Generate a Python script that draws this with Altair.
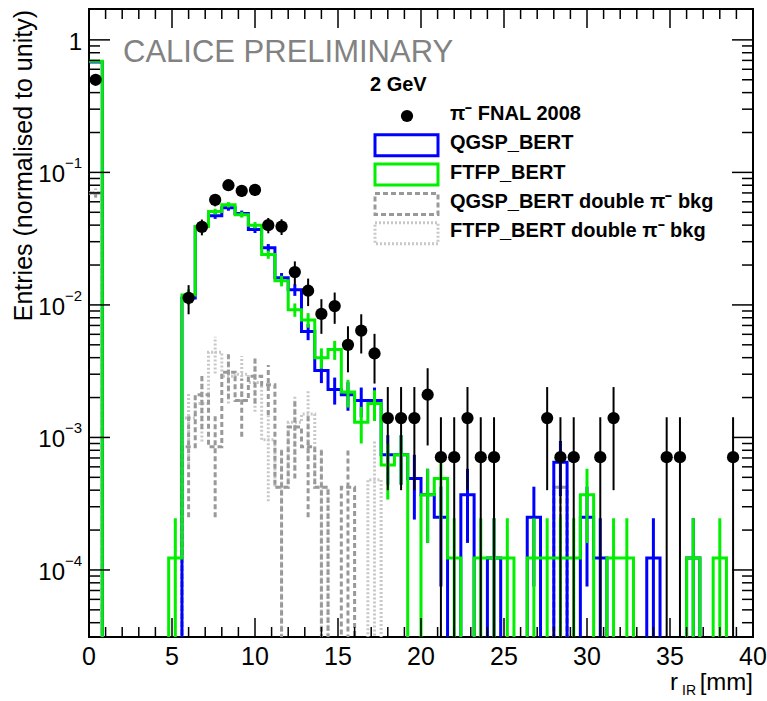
import altair as alt
import pandas as pd

# ---------------- data ----------------
BIN_W = 0.8          # mm, 50 bins from 0 to 40 mm

# measured data pi- FNAL 2008 (bin index, value, error)
data_bins = [0, 7, 8, 9, 10, 11, 12, 13, 14, 15, 16, 17, 18, 19, 20, 21,
             22, 23, 24, 25, 26, 27, 28, 29, 30, 34, 35, 36, 38, 39, 43, 44, 48]
data_vals = [0.50, 0.0113, 0.0388, 0.062, 0.080, 0.0725, 0.0738, 0.040, 0.039,
             0.0177, 0.0128, 0.00855, 0.0098, 0.0050, 0.0064, 0.0043,
             0.0014, 0.0014, 0.0014, 0.0021, 0.00071, 0.00071, 0.0014, 0.00071,
             0.00071, 0.0014, 0.00071, 0.00071, 0.00071, 0.0014, 0.00071,
             0.00071, 0.00071]
data_errs = [0.019, 0.0028, 0.0053, 0.0066, 0.0076, 0.0072, 0.0073, 0.0053,
             0.0053, 0.0036, 0.0030, 0.0025, 0.0026, 0.0019, 0.0021, 0.00175,
             0.0010, 0.0010, 0.0010, 0.00123, 0.00071, 0.00071, 0.0010, 0.00071,
             0.00071, 0.0010, 0.00071, 0.00071, 0.00071, 0.0010, 0.00071,
             0.00071, 0.00071]

# QGSP_BERT (blue)
qgsp = [0.68, 0, 0, 0, 0, 0, 0, 0.0113, 0.039, 0.047,
        0.054, 0.049, 0.037, 0.027, 0.016, 0.013, 0.0063, 0.0032, 0.0023, 0.0021,
        0.0019, 0.0019, 0.00074, 0.00074, 0.00049, 0.00037, 0.00025, 0, 0.00037, 0,
        0.000123, 0, 0, 0.00025, 0, 0.00065, 0, 0.00025, 0.000123, 0,
        0, 0, 0.000123, 0, 0, 0.000123, 0, 0, 0, 0]
qgsp_err = [0.0091, 0, 0, 0, 0, 0, 0, 0.0012, 0.0022, 0.0024,
            0.0026, 0.0025, 0.0021, 0.0018, 0.0014, 0.0013, 0.00088, 0.00063, 0.00053, 0.00051,
            0.00048, 0.00048, 0.0003, 0.0003, 0.00025, 0.00021, 0.000175, 0, 0.00021, 0,
            0.000123, 0, 0, 0.000175, 0, 0.00029, 0, 0.000175, 0.000123, 0,
            0, 0, 0.000123, 0, 0, 0.000123, 0, 0, 0, 0]

# FTFP_BERT (green)
ftfp = [0.69, 0, 0, 0, 0, 0, 0.000123, 0.0119, 0.039, 0.0506,
        0.057, 0.048, 0.040, 0.024, 0.0152, 0.0092, 0.0077, 0.0040, 0.0046, 0.0022,
        0.0013, 0.0018, 0.00062, 0.00074, 0, 0.00037, 0.00049, 0.000123, 0, 0.000123,
        0.000123, 0.000123, 0, 0.000123, 0.000123, 0.000123, 0.000123, 0.00037, 0, 0.000123,
        0.000123, 0, 0, 0, 0, 0.000123, 0, 0.000123, 0, 0]
ftfp_err = [0.0092, 0, 0, 0, 0, 0, 0.000123, 0.0012, 0.0022, 0.0025,
            0.00265, 0.0024, 0.0022, 0.0017, 0.0014, 0.00106, 0.00097, 0.0007, 0.00075, 0.00052,
            0.0004, 0.00047, 0.00028, 0.0003, 0, 0.00021, 0.00025, 0.000123, 0, 0.000123,
            0.000123, 0.000123, 0, 0.000123, 0.000123, 0.000123, 0.000123, 0.00021, 0, 0.000123,
            0.000123, 0, 0, 0, 0, 0.000123, 0, 0.000123, 0, 0]

# QGSP_BERT double pi- bkg (dark grey dashed)
qgsp_bkg = [0.070, 0, 0, 0, 0, 0, 0, 0.00085, 0.0021, 0.00085,
            0.0031, 0.0019, 0.0029, 0.0025, 0.00042, 0.0012, 0.00085, 0.00042, 0, 0.00042,
            0, 0, 0, 0, 0, 0, 0, 0, 0, 0,
            0, 0, 0, 0, 0, 0.00042, 0, 0, 0, 0,
            0, 0, 0, 0, 0, 0, 0, 0, 0, 0]
qgsp_bkg_err = [0.0054, 0, 0, 0, 0, 0, 0, 0.0006, 0.00094, 0.0006,
                0.00114, 0.00089, 0.0011, 0.00102, 0.00042, 0.00071, 0.0006, 0.00042, 0, 0.00042,
                0, 0, 0, 0, 0, 0, 0, 0, 0, 0,
                0, 0, 0, 0, 0, 0.00042, 0, 0, 0, 0,
                0, 0, 0, 0, 0, 0, 0, 0, 0, 0]

# FTFP_BERT double pi- bkg (light grey dotted)
ftfp_bkg = [0.070, 0, 0, 0, 0, 0, 0, 0.0014, 0.0018, 0.0044,
            0.0029, 0.0030, 0.0026, 0.00096, 0.00042, 0.0013, 0.0015, 0.00042, 0, 0,
            0, 0.00048, 0, 0, 0, 0, 0, 0, 0, 0,
            0, 0, 0, 0, 0, 0.00042, 0, 0, 0, 0,
            0, 0, 0, 0, 0, 0, 0, 0, 0, 0]
ftfp_bkg_err = [0.0054, 0, 0, 0, 0, 0, 0, 0.00077, 0.00087, 0.00136,
                0.0011, 0.00112, 0.00104, 0.00063, 0.00042, 0.00074, 0.00079, 0.00042, 0, 0,
                0, 0.00048, 0, 0, 0, 0, 0, 0, 0, 0,
                0, 0, 0, 0, 0, 0.00042, 0, 0, 0, 0,
                0, 0, 0, 0, 0, 0, 0, 0, 0, 0]

x_tick_labels = [0, 5, 10, 15, 20, 25, 30, 35, 40]
y_major_ticks = [1e-4, 1e-3, 1e-2, 1e-1, 1.0]
y_label_exps = ["\u22124", "\u22123", "\u22122", "\u22121"]

legend_labels = ["\u03c0\u207b FNAL 2008", "QGSP_BERT", "FTFP_BERT",
                 "QGSP_BERT double \u03c0\u207b bkg", "FTFP_BERT double \u03c0\u207b bkg"]

# ---------------- layout / style ----------------
W, H = 664, 628
FLOOR = 1e-7
FONT = "Liberation Sans"
BLUE, GREEN = "#0000ff", "#00f000"
DGREY, LGREY = "#999999", "#c8c8c8"

xs = alt.Scale(domain=[0, 40], nice=False, zero=False)
ys = alt.Scale(type="log", domain=[3.12e-5, 1.71], nice=False)
one = pd.DataFrame({"a": [0]})


def steps(vals):
    rows = []
    for i, v in enumerate(vals):
        yv = v if v > 0 else FLOOR
        rows.append({"x": i * BIN_W, "y": yv, "o": 2 * i})
        rows.append({"x": (i + 1) * BIN_W, "y": yv, "o": 2 * i + 1})
    return pd.DataFrame(rows)


def errs(bins, vals, es):
    rows = []
    for i, v, e in zip(bins, vals, es):
        if v > 0:
            rows.append({"x": (i + 0.5) * BIN_W, "y": v,
                         "lo": max(v - e, FLOOR), "hi": v + e})
    return pd.DataFrame(rows)


def hist_layer(vals, es, color, width, dash=None):
    kw = dict(color=color, strokeWidth=width, clip=True)
    if dash:
        kw["strokeDash"] = dash
    line = alt.Chart(steps(vals)).mark_line(interpolate="linear", **kw).encode(
        x=alt.X("x:Q", scale=xs, axis=None),
        y=alt.Y("y:Q", scale=ys, axis=None),
        order="o:Q")
    bars = alt.Chart(errs(range(len(vals)), vals, es)).mark_rule(**kw).encode(
        x=alt.X("x:Q", scale=xs, axis=None),
        y=alt.Y("lo:Q", scale=ys, axis=None),
        y2="hi:Q")
    return line + bars


layers = [
    hist_layer(ftfp_bkg, ftfp_bkg_err, LGREY, 3, [2, 2]),
    hist_layer(qgsp_bkg, qgsp_bkg_err, DGREY, 3, [5, 3]),
    hist_layer(qgsp, qgsp_err, BLUE, 3),
    hist_layer(ftfp, ftfp_err, GREEN, 3),
]

ddf = errs(data_bins, data_vals, data_errs)
layers.append(alt.Chart(ddf).mark_rule(color="black", strokeWidth=2, clip=True).encode(
    x=alt.X("x:Q", scale=xs, axis=None),
    y=alt.Y("lo:Q", scale=ys, axis=None), y2="hi:Q"))
layers.append(alt.Chart(ddf).mark_circle(color="black", opacity=1, size=150).encode(
    x=alt.X("x:Q", scale=xs, axis=None),
    y=alt.Y("y:Q", scale=ys, axis=None)))

# ---------------- ticks (inward, ROOT style) ----------------
x_minor = [v for v in range(0, 41) if v % 5]
y_minor = [k * 10.0 ** d for d in range(-5, 1) for k in range(2, 10)
           if 3.12e-5 <= k * 10.0 ** d <= 1.71]
tick_style = dict(color="black", strokeWidth=1.5)


def xticks(vals, length):
    df = pd.DataFrame({"v": vals})
    xe = alt.X("v:Q", scale=xs, axis=None)
    return (alt.Chart(df).mark_rule(**tick_style).encode(x=xe, y=alt.value(H), y2=alt.value(H - length))
            + alt.Chart(df).mark_rule(**tick_style).encode(x=xe, y=alt.value(0), y2=alt.value(length)))


def yticks(vals, length):
    df = pd.DataFrame({"v": vals})
    ye = alt.Y("v:Q", scale=ys, axis=None)
    return (alt.Chart(df).mark_rule(**tick_style).encode(y=ye, x=alt.value(0), x2=alt.value(length))
            + alt.Chart(df).mark_rule(**tick_style).encode(y=ye, x=alt.value(W), x2=alt.value(W - length)))


layers += [xticks(x_tick_labels, 19), xticks(x_minor, 10),
           yticks(y_major_ticks, 21), yticks(y_minor, 11)]

# ---------------- tick labels ----------------
xl = pd.DataFrame({"v": x_tick_labels, "t": [str(v) for v in x_tick_labels]})
layers.append(alt.Chart(xl).mark_text(font=FONT, fontSize=25, baseline="middle", align="center").encode(
    x=alt.X("v:Q", scale=xs, axis=None), y=alt.value(H + 20), text="t:N"))

ydec = pd.DataFrame({"v": y_major_ticks[:-1], "e": y_label_exps})
layers.append(alt.Chart(ydec).mark_text(font=FONT, fontSize=24, baseline="middle", align="right", dy=3, text="10").encode(
    y=alt.Y("v:Q", scale=ys, axis=None), x=alt.value(-24)))
layers.append(alt.Chart(ydec).mark_text(font=FONT, fontSize=15, baseline="middle", align="left", dy=-9).encode(
    y=alt.Y("v:Q", scale=ys, axis=None), x=alt.value(-24), text="e:N"))
layers.append(alt.Chart(pd.DataFrame({"v": [1.0]})).mark_text(font=FONT, fontSize=24, baseline="middle", align="right", dy=3, text="1").encode(
    y=alt.Y("v:Q", scale=ys, axis=None), x=alt.value(-7)))

# ---------------- axis titles ----------------
layers.append(alt.Chart(one).mark_text(font=FONT, fontSize=25, angle=270, align="right", baseline="middle",
                                        text="Entries (normalised to unity)").encode(x=alt.value(-65), y=alt.value(1)))
layers.append(alt.Chart(one).mark_text(font=FONT, fontSize=24, align="right", baseline="middle", text="[mm]").encode(
    x=alt.value(W), y=alt.value(H + 46)))
layers.append(alt.Chart(one).mark_text(font=FONT, fontSize=14, align="right", baseline="middle", text="IR").encode(
    x=alt.value(W - 57), y=alt.value(H + 54)))
layers.append(alt.Chart(one).mark_text(font=FONT, fontSize=24, align="right", baseline="middle", text="r").encode(
    x=alt.value(W - 75), y=alt.value(H + 46)))

# ---------------- annotations ----------------
layers.append(alt.Chart(one).mark_text(font=FONT, fontSize=31, align="left", baseline="middle", color="#828282",
                                        text="CALICE PRELIMINARY").encode(x=alt.value(34), y=alt.value(44)))
layers.append(alt.Chart(one).mark_text(font=FONT, fontSize=20, fontWeight="bold", align="left", baseline="middle",
                                        text="2 GeV").encode(x=alt.value(281), y=alt.value(76)))

# ---------------- legend ----------------
LEG_Y0, LEG_DY = 105, 29.3
BOX_X0, BOX_X1, BOX_H = 286, 349, 21
TEXT_X = 361
for i, lab in enumerate(legend_labels):
    yc = LEG_Y0 + i * LEG_DY
    layers.append(alt.Chart(one).mark_text(font=FONT, fontSize=20, fontWeight="bold", align="left",
                                            baseline="middle", text=lab).encode(x=alt.value(TEXT_X), y=alt.value(yc)))
layers.append(alt.Chart(one).mark_circle(color="black", opacity=1, size=150).encode(
    x=alt.value(318), y=alt.value(LEG_Y0 + 2)))
box_styles = [(BLUE, None), (GREEN, None), (DGREY, [5, 3]), (LGREY, [2, 2])]
for j, (col, dash) in enumerate(box_styles):
    yc = LEG_Y0 + (j + 1) * LEG_DY
    kw = dict(fillOpacity=0, stroke=col, strokeWidth=3)
    if dash:
        kw["strokeDash"] = dash
    layers.append(alt.Chart(one).mark_rect(**kw).encode(
        x=alt.value(BOX_X0), x2=alt.value(BOX_X1),
        y=alt.value(yc - BOX_H / 2 + 2), y2=alt.value(yc + BOX_H / 2 + 2)))

chart = alt.layer(*layers).properties(
    width=W, height=H,
    padding={"left": 89, "top": 9, "right": 14, "bottom": 64},
    autosize=alt.AutoSizeParams(type="none"),
    background="white",
).configure_view(stroke="black", strokeWidth=2)

chart.save("out.html", embed_options={"renderer": "svg", "actions": False})
